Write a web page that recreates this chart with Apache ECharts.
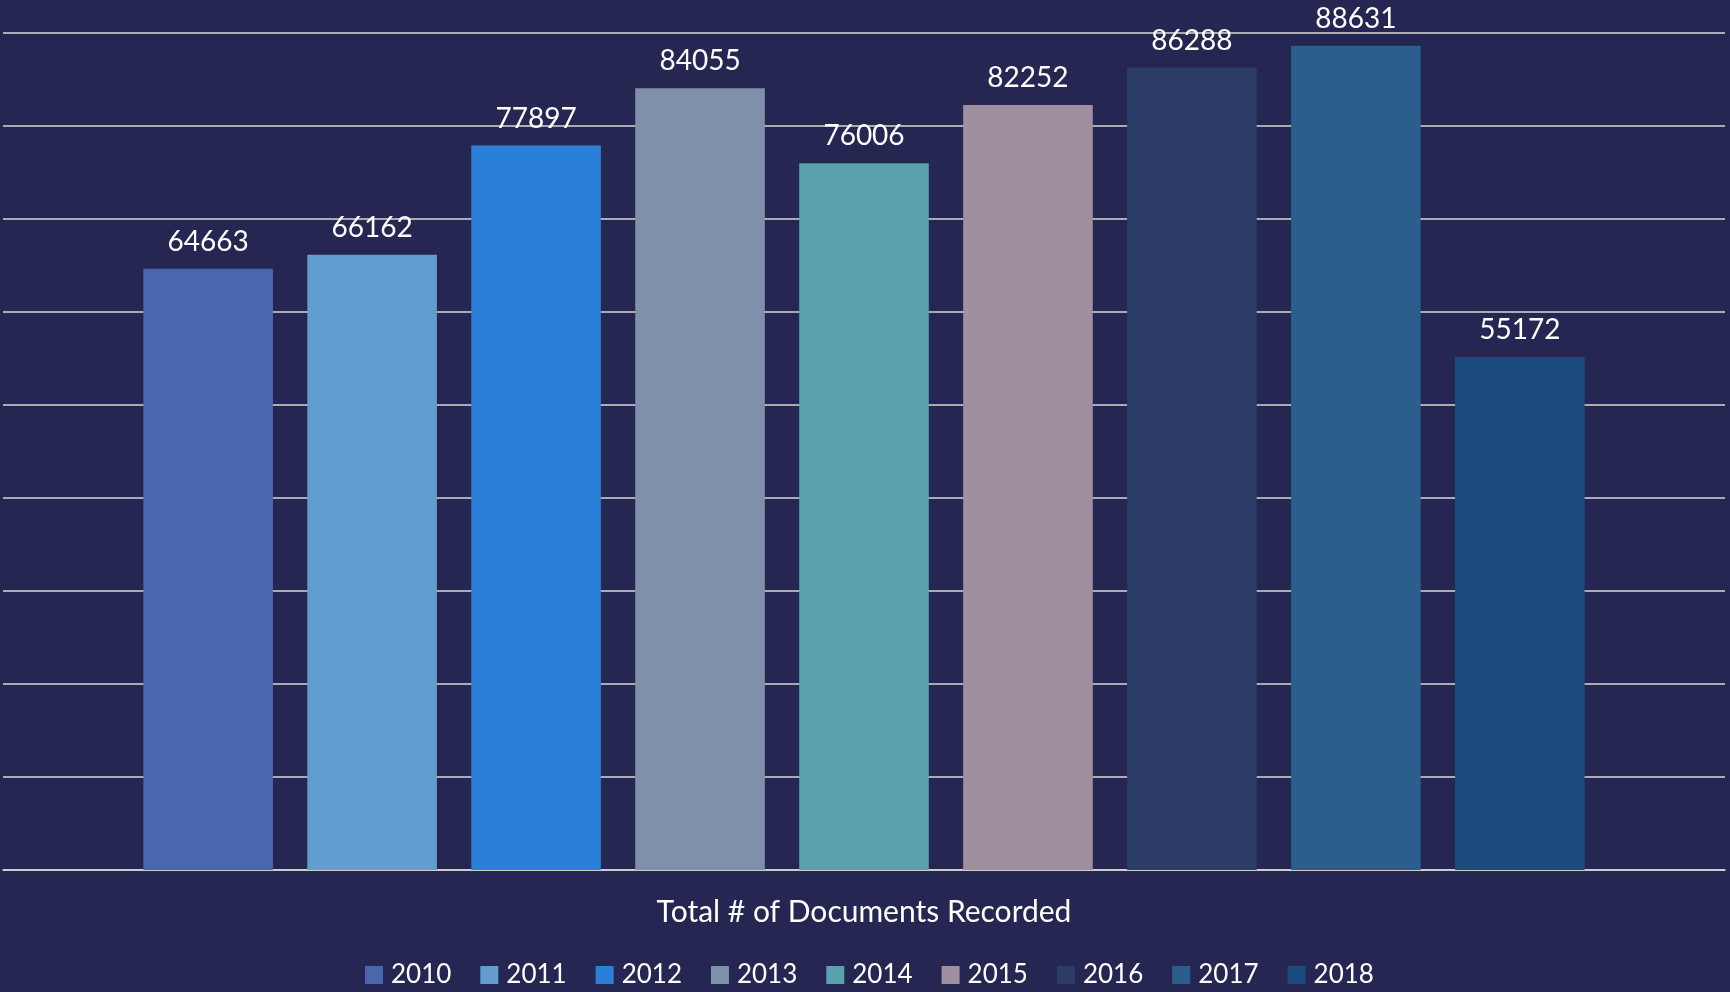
<!DOCTYPE html>
<html>
<head>
<meta charset="utf-8">
<script src="https://cdn.jsdelivr.net/npm/echarts@6/dist/echarts.min.js"></script>
<style>
html,body{margin:0;padding:0;background:#252752;}
#chart{width:1730px;height:992px;}
</style>
</head>
<body>
<div id="chart"></div>
<script>
const categories = ['Total # of Documents Recorded'];
const years = ['2010','2011','2012','2013','2014','2015','2016','2017','2018'];
const values = [64663, 66162, 77897, 84055, 76006, 82252, 86288, 88631, 55172];
const colors = ['#4a67ae','#629dd0','#2a7fd8','#7f90aa','#58a1ad','#9f909f','#2b3c66','#2a5f8d','#1b4b7e'];

const FONT = 'Lato';
const series = years.map((y, i) => ({
  name: y,
  type: 'bar',
  data: [values[i]],
  itemStyle: { color: colors[i] },
  barGap: '26.5%',
  barCategoryGap: '16.3%',
  label: {
    show: true,
    position: 'top',
    distance: 13,
    color: '#ffffff',
    fontSize: 28,
    fontFamily: FONT
  }
}));

const chart = echarts.init(document.getElementById('chart'));
chart.setOption({
  backgroundColor: '#252752',
  animation: false,
  textStyle: { fontFamily: FONT },
  grid: { left: 3, right: 5, top: 33, bottom: 122, containLabel: false },
  legend: {
    data: years,
    top: 962,
    left: 365,
    padding: 0,
    icon: 'rect',
    itemWidth: 18,
    itemHeight: 18,
    itemGap: 29,
    textStyle: { color: '#ffffff', fontSize: 26, fontFamily: FONT, padding: [0, 0, 0, 3] }
  },
  xAxis: {
    type: 'category',
    data: categories,
    axisLine: { show: true, lineStyle: { color: '#d9d9d9', width: 1.5 } },
    axisTick: { show: false },
    axisLabel: { color: '#ffffff', fontSize: 30, margin: 27, fontFamily: FONT }
  },
  yAxis: {
    type: 'value',
    min: 0,
    max: 90000,
    interval: 10000,
    axisLine: { show: false },
    axisTick: { show: false },
    axisLabel: { show: false },
    splitLine: { lineStyle: { color: '#d9d9d9', width: 1.5 } }
  },
  series: series
});
</script>
</body>
</html>
